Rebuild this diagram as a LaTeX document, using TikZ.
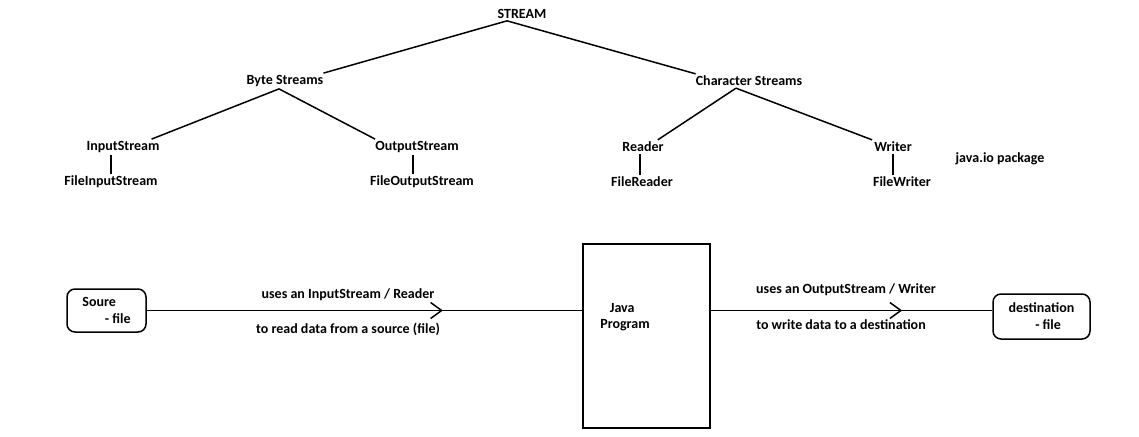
\documentclass[tikz,border=0pt]{standalone}
\usepackage{fontspec}
\setmainfont{Carlito}
\usetikzlibrary{positioning, arrows.meta, decorations.markings}
\tikzset{
  label/.style = {
    inner sep=2pt, font=\bfseries\fontsize{14}{16}\selectfont,
  },
  filebox/.style = {
    rectangle, draw, rounded corners=8pt, line width=1.5pt,
    align=left, inner sep=0pt, font=\bfseries\fontsize{14}{17}\selectfont,
  },
  progbox/.style = {
    rectangle, draw, line width=1.5pt,
    minimum width=127pt, minimum height=184pt,
  },
  branch/.style = {line width=1.5pt},
  flowarrow/.style = {line width=1.5pt,
    decoration={markings, mark=at position 0.68 with
      {\arrow{Straight Barb[length=11pt,width=16pt,line width=1.5pt]}}},
    postaction={decorate}},
}
\begin{document}
\begin{tikzpicture}[x=1pt, y=-1pt]
    \useasboundingbox (0,0) rectangle (1139,436);
    % --- Tree nodes ---
    \node[label] (stream) at (522,14)  {STREAM};
    \node[label] (bytes)  at (285,81)  {Byte Streams};
    \node[label] (chars)  at (749,81)  {Character Streams};
    \node[label] (instr)  at (123,147) {InputStream};
    \node[label] (finstr) at (111,182) {FileInputStream};
    \node[label] (outstr) at (417,147) {OutputStream};
    \node[label] (foutstr) at (422,182) {FileOutputStream};
    \node[label] (reader) at (643,147) {Reader};
    \node[label] (freader) at (642,182) {FileReader};
    \node[label] (writer) at (893,147) {Writer};
    \node[label] (fwriter) at (902,182) {FileWriter};
    \node[label] (pkg)    at (1000,159) {java.io package};

    % --- Tree edges ---
    \draw[branch] ([xshift=-15pt]stream.south) -- ([xshift=-2pt]bytes.north east);
    \draw[branch] ([xshift=-15pt]stream.south) -- ([xshift=2pt]chars.north west);
    \draw[branch] ([xshift=-6pt]bytes.south) -- ([xshift=-10pt]instr.north east);
    \draw[branch] ([xshift=-6pt]bytes.south) -- ([xshift=2pt]outstr.north west);
    \draw[branch] ([xshift=-13pt]chars.south) -- ([xshift=-8pt]reader.north east);
    \draw[branch] ([xshift=-13pt]chars.south) -- (writer.north west);
    \draw[branch] (finstr.north) -- (finstr.north |- instr.south);
    \draw[branch] ([xshift=-4pt]outstr.south) -- ([xshift=-4pt]outstr.south |- foutstr.north);
    \draw[branch] ([xshift=-3pt]reader.south) -- ([xshift=-3pt]reader.south |- freader.north);
    \draw[branch] (writer.south) -- (writer.south |- fwriter.north);

    % --- Data flow ---
    \node[filebox, minimum width=79pt, minimum height=43pt] (source) at (106.5,310.5)
      {Soure\\\hspace*{1.6em}- file};
    \node[progbox] (prog) at (646.5,336) {};
    \node[label, align=center] (progtext) at (625,317) {\hspace*{-0.4em}Java\\Program};
    \node[filebox, minimum width=97pt, minimum height=45pt] (dest) at (1041.5,316.5)
      {destination\\\hspace*{1.9em}- file};

    \draw[flowarrow] (source.east) -- (prog.west |- source.east);
    \draw[flowarrow] (prog.east |- source.east) -- (dest.west |- source.east);
    \node[label] (inlbl)  at (348,295) {uses an InputStream / Reader};
    \node[label] (inlbl2) at (348,329) {to read data from a source (file)};
    \node[label] (outlbl) at (846,290) {uses an OutputStream / Writer};
    \node[label] (outlbl2) at (841,325) {to write data to a destination};
\end{tikzpicture}
\end{document}
